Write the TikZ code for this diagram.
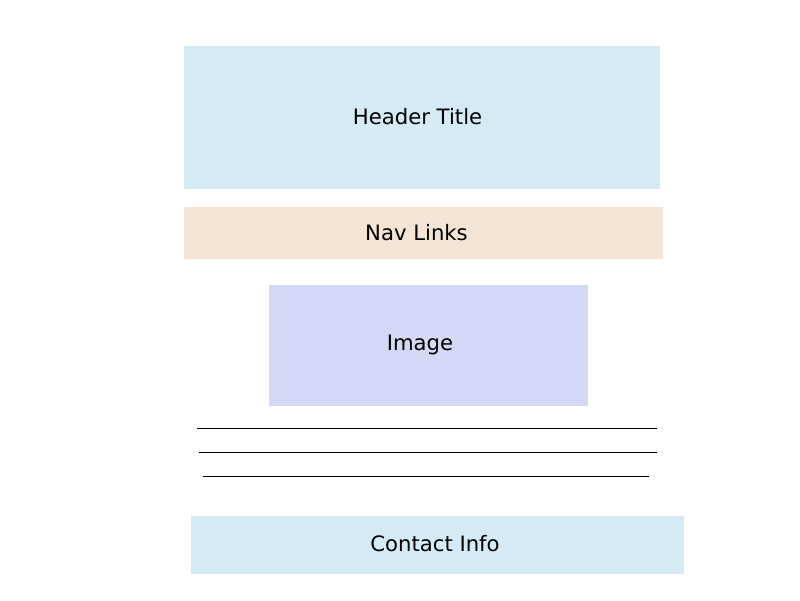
\documentclass[tikz,border=0pt]{standalone}
\usepackage{fontspec}
\setmainfont{DejaVu Sans}
\begin{document}
\begin{tikzpicture}[x=1pt,y=-1pt,
  blk/.style={draw=none,inner sep=0pt},
  lbl/.style={font=\fontsize{21.2}{25}\selectfont,text=black,inner sep=0pt},
  rule/.style={draw=black,line width=1pt}]
\useasboundingbox[fill=white] (0,0) rectangle (800,600);
\definecolor{hdrblue}{RGB}{212,234,244}
\definecolor{navpeach}{RGB}{244,228,212}
\definecolor{imglav}{RGB}{212,216,244}
\fill[hdrblue] (184,46) rectangle (660,189);
\node[lbl] (header) at (417.5,117) {Header Title};
\fill[navpeach] (184,207) rectangle (663,259);
\node[lbl] (nav) at (416.5,233) {Nav Links};
\fill[imglav] (269,285) rectangle (588,406);
\node[lbl] (image) at (420,344.5) {Image};
\coordinate (l1a) at (197,428); \coordinate (l1b) at (657,428);
\coordinate (l2a) at (199,452); \coordinate (l2b) at (657,452);
\coordinate (l3a) at (203,476); \coordinate (l3b) at (649,476);
\draw[rule] (l1a) -- (l1b);
\draw[rule] (l2a) -- (l2b);
\draw[rule] (l3a) -- (l3b);
\fill[hdrblue] (191,516) rectangle (684,574);
\node[lbl] (contact) at (435,544) {Contact Info};
\end{tikzpicture}
\end{document}
